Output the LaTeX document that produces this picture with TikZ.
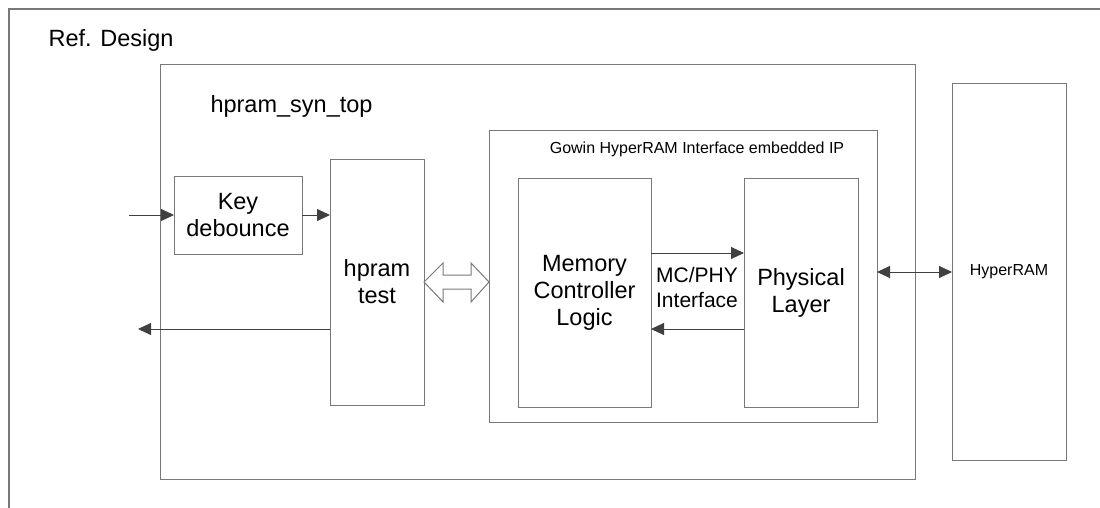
\documentclass[tikz,border=0pt]{standalone}
\usepackage{fontspec}
\setmainfont{Liberation Sans}
\usetikzlibrary{arrows.meta,calc}
\definecolor{boxline}{RGB}{120,120,120}
\definecolor{arrline}{RGB}{64,64,64}
\tikzset{
  blk/.style={draw=boxline, line width=1pt, rectangle, inner sep=0pt, outer sep=0pt, align=center},
  arr/.style={draw=arrline, line width=1pt, -{Triangle[length=13pt,width=12pt]}},
  darr/.style={draw=arrline, line width=1pt, {Triangle[length=13pt,width=12pt]}-{Triangle[length=13pt,width=12pt]}},
  big/.style={font=\fontsize{23.5}{27}\selectfont},
  mid/.style={font=\fontsize{21}{25}\selectfont},
  small/.style={font=\fontsize{16}{19}\selectfont},
}
\begin{document}
\begin{tikzpicture}[x=1pt,y=-1pt]
\useasboundingbox (0,0) rectangle (1100,508);
% outer frame (partial)
\draw[draw=boxline, line width=1.5pt] (9,508) -- (9,9) -- (1100,9);
\node[big, anchor=base west] (ref) at (45,47) {Ref. Design};
% top-level block
\node[blk, minimum width=755pt, minimum height=414pt] (syn) at (537.5,272) {};
\node[big, anchor=base west] (synlbl) at (207,113) {hpram\_syn\_top};
\node[blk, big, minimum width=128pt, minimum height=78pt] (key) at (238,215) {Key\\debounce};
\node[blk, big, minimum width=94pt, minimum height=246pt] (test) at (377,282) {hpram\\test};
\node[blk, minimum width=388pt, minimum height=291pt] (gowin) at (683,276.5) {};
\node[small] (gowinlbl) at (697,149) {Gowin HyperRAM Interface embedded IP};
\node[blk, big, minimum width=133pt, minimum height=229pt] (mcl) at (584.5,292.5) {Memory\\Controller\\Logic};
\node[blk, big, minimum width=114pt, minimum height=229pt] (phy) at (801,292.5) {Physical\\Layer};
\node[mid, align=center] (mcphy) at (697,287) {MC/PHY\\Interface};
\node[blk, small, minimum width=114pt, minimum height=376pt] (hram) at (1009,272) {HyperRAM};
% connectors
\coordinate (kin) at (129,215);
\coordinate (tout) at (138,329);
\draw[arr] (kin) -- (key.west);
\draw[arr] (key.east) -- (key.east -| test.west);
\draw[arr] (test.west |- tout) -- (tout);
\draw[arr] ([yshift=39.5pt]mcl.east) -- ([yshift=39.5pt]phy.west);
\draw[arr] ([yshift=-36.5pt]phy.west) -- ([yshift=-36.5pt]mcl.east);
\draw[darr] (gowin.east |- hram.west) -- (hram.west);
% hollow double arrow between hpram test and IP
\draw[draw=boxline, line width=1pt, fill=white, line join=miter]
  (test.east)
  -- ($(test.east)+(19,-19)$) -- ($(test.east)+(19,-7)$)
  -- ($(test.east)+(47,-7)$) -- ($(test.east)+(47,-19)$)
  -- (test.east -| gowin.west)
  -- ($(test.east)+(47,20)$) -- ($(test.east)+(47,7)$)
  -- ($(test.east)+(19,7)$) -- ($(test.east)+(19,20)$) -- cycle;
\end{tikzpicture}
\end{document}
